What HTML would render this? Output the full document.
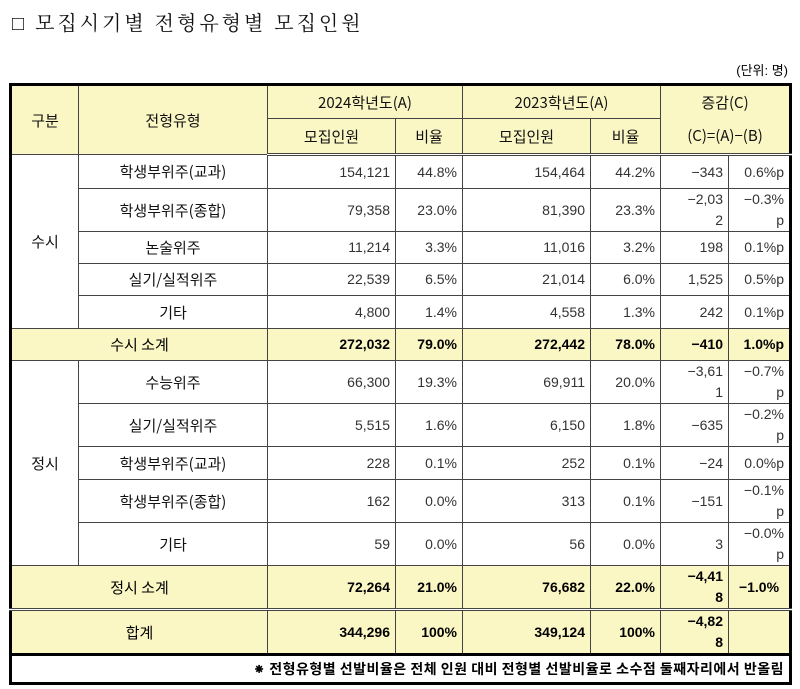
<!DOCTYPE html>
<html><head><meta charset="utf-8">
<style>
body{margin:0;width:800px;height:689px;background:#fff;overflow:hidden;font-family:"Liberation Sans","Noto Sans CJK KR",sans-serif;}
#title{position:absolute;left:12px;top:7px;font-family:"Liberation Serif","Noto Serif CJK KR","Noto Serif CJK SC",serif;font-size:20px;letter-spacing:3px;color:#111;}
#unit{position:absolute;right:12px;top:60px;font-size:13px;font-family:"Liberation Sans","Noto Sans CJK KR",sans-serif;}
table{position:absolute;left:9px;top:83px;border-collapse:collapse;table-layout:fixed;border:3px solid #000;}
td{border:1px solid #444;padding:0 5px;font-size:14px;color:#333;text-align:right;line-height:17px;overflow:hidden;}
td.c{text-align:center;color:#111;font-size:15px;font-family:"Noto Sans CJK KR",sans-serif;}
.y td{background:#fbf7c4;color:#000;font-weight:bold;}
.y td.c{font-weight:normal;}
.h td{background:#fbf7c4;text-align:center;color:#111;font-size:15px;font-family:"Noto Sans CJK KR",sans-serif;}
.dbl td{border-bottom:3px double #444;}
td.w{line-height:21px;}
</style></head><body>
<div id="title">□ 모집시기별 전형유형별 모집인원</div>
<div id="unit">(단위: 명)</div>
<table>
<colgroup><col style="width:68px"><col style="width:189px"><col style="width:128px"><col style="width:67px"><col style="width:128px"><col style="width:70px"><col style="width:68px"><col style="width:62px"></colgroup>
<tr class="h" style="height:34px"><td rowspan="2">구분</td><td rowspan="2">전형유형</td><td colspan="2">2024학년도(A)</td><td colspan="2">2023학년도(A)</td><td colspan="2" style="border-bottom:none">증감(C)</td></tr>
<tr class="h dbl" style="height:36px"><td>모집인원</td><td>비율</td><td>모집인원</td><td>비율</td><td colspan="2" style="border-top:none">(C)=(A)−(B)</td></tr>
<tr style="height:34px"><td class="c" rowspan="5">수시</td><td class="c">학생부위주(교과)</td><td>154,121</td><td>44.8%</td><td>154,464</td><td>44.2%</td><td>−343</td><td>0.6%p</td></tr>
<tr style="height:43px"><td class="c">학생부위주(종합)</td><td>79,358</td><td>23.0%</td><td>81,390</td><td>23.3%</td><td class="w">−2,03<br>2</td><td class="w">−0.3%<br>p</td></tr>
<tr style="height:32px"><td class="c">논술위주</td><td>11,214</td><td>3.3%</td><td>11,016</td><td>3.2%</td><td>198</td><td>0.1%p</td></tr>
<tr style="height:32px"><td class="c">실기/실적위주</td><td>22,539</td><td>6.5%</td><td>21,014</td><td>6.0%</td><td>1,525</td><td>0.5%p</td></tr>
<tr style="height:33px"><td class="c">기타</td><td>4,800</td><td>1.4%</td><td>4,558</td><td>1.3%</td><td>242</td><td>0.1%p</td></tr>
<tr class="y" style="height:32px"><td class="c" colspan="2">수시 소계</td><td>272,032</td><td>79.0%</td><td>272,442</td><td>78.0%</td><td>−410</td><td>1.0%p</td></tr>
<tr style="height:42px"><td class="c" rowspan="5">정시</td><td class="c">수능위주</td><td>66,300</td><td>19.3%</td><td>69,911</td><td>20.0%</td><td class="w">−3,61<br>1</td><td class="w">−0.7%<br>p</td></tr>
<tr style="height:42px"><td class="c">실기/실적위주</td><td>5,515</td><td>1.6%</td><td>6,150</td><td>1.8%</td><td>−635</td><td class="w">−0.2%<br>p</td></tr>
<tr style="height:33px"><td class="c">학생부위주(교과)</td><td>228</td><td>0.1%</td><td>252</td><td>0.1%</td><td>−24</td><td>0.0%p</td></tr>
<tr style="height:43px"><td class="c">학생부위주(종합)</td><td>162</td><td>0.0%</td><td>313</td><td>0.1%</td><td>−151</td><td class="w">−0.1%<br>p</td></tr>
<tr style="height:43px"><td class="c">기타</td><td>59</td><td>0.0%</td><td>56</td><td>0.0%</td><td>3</td><td class="w">−0.0%<br>p</td></tr>
<tr class="y dbl" style="height:42px"><td class="c" colspan="2">정시 소계</td><td>72,264</td><td>21.0%</td><td>76,682</td><td>22.0%</td><td class="w">−4,41<br>8</td><td style="text-align:center">−1.0%</td></tr>
<tr class="y" style="height:42px;border-bottom:3px solid #000"><td class="c" colspan="2">합계</td><td>344,296</td><td>100%</td><td>349,124</td><td>100%</td><td class="w">−4,82<br>8</td><td></td></tr>
<tr style="height:29px"><td colspan="8" style="color:#000;font-size:14px;font-weight:bold;letter-spacing:0.5px;font-family:'Noto Sans CJK KR',sans-serif;border-top:3px solid #000">⁕ 전형유형별 선발비율은 전체 인원 대비 전형별 선발비율로 소수점 둘째자리에서 반올림</td></tr>
</table>
</body></html>
